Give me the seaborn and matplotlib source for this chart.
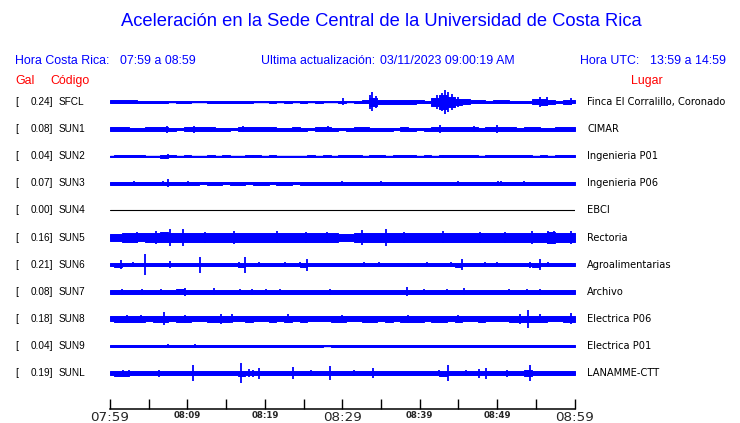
import numpy as np
import matplotlib.pyplot as plt
import seaborn as sns

# estaciones (de arriba hacia abajo)
codes = ['SFCL', 'SUN1', 'SUN2', 'SUN3', 'SUN4', 'SUN5', 'SUN6', 'SUN7', 'SUN8', 'SUN9', 'SUNL']
gal = [0.24, 0.08, 0.04, 0.07, 0.00, 0.16, 0.21, 0.08, 0.18, 0.04, 0.19]
places = ['Finca El Corralillo, Coronado', 'CIMAR', 'Ingenieria P01', 'Ingenieria P06', 'EBCI',
          'Rectoria', 'Agroalimentarias', 'Archivo', 'Electrica P06', 'Electrica P01', 'LANAMME-CTT']

# minutos desde 07:59, etiquetas del eje
minutes = np.arange(61)
tick_min = [0, 5, 10, 15, 20, 25, 30, 35, 40, 45, 50, 55, 60]
tick_lab = ['07:59', '', '08:09', '', '08:19', '', '08:29', '', '08:39', '', '08:49', '', '08:59']
big_ticks = ['07:59', '08:29', '08:59']

# envolvente (semi-amplitud, px) leida minuto a minuto
env_sfcl = [1.5, 1.5, 1.5, 1.5, 1.0, 1.2, 1.2, 1.0, 0.5, 0.8, 0.8, 0.5, 0.5, 1.2, 0.7, 1.2, 0.8, 1.0, 0.6, 0.5,
            0.5, 0.6, 0.5, 0.6, 0.5, 0.6, 0.5, 1.0, 0.5, 0.5, 0.8, 0.5, 0.8, 1.5, 4.0, 2.0, 2.0, 2.0, 2.0, 2.0,
            1.5, 1.0, 4.0, 7.0, 5.0, 3.0, 2.5, 1.5, 1.5, 1.2, 1.5, 1.5, 1.2, 1.0, 1.2, 2.5, 3.0, 2.0, 1.2, 2.0, 1.5]
env_sun1 = [1.6, 1.6, 1.6, 1.5, 1.5, 1.6, 1.7, 1.8, 1.5, 1.4, 1.6, 1.8, 1.6, 1.7, 1.5, 1.5, 1.4, 1.7, 1.6, 1.6,
            1.6, 1.6, 1.5, 1.5, 1.6, 1.5, 1.4, 1.6, 1.8, 1.5, 1.4, 1.5, 1.6, 1.6, 1.5, 1.5, 1.5, 1.4, 1.6, 1.5,
            1.4, 1.5, 1.8, 1.6, 1.6, 1.6, 1.6, 1.8, 1.5, 1.6, 1.8, 1.6, 1.6, 1.5, 1.6, 1.6, 1.5, 1.5, 1.6, 1.6, 1.6]
env_sun2 = [0.5, 1.2, 1.0, 1.0, 0.9, 0.5, 0.5, 1.4, 1.0, 0.5, 1.3, 0.5, 0.5, 1.2, 0.5, 1.0, 0.5, 0.5, 1.3, 1.0,
            0.5, 0.9, 0.5, 0.5, 0.5, 0.5, 0.8, 0.5, 0.8, 0.5, 1.3, 0.9, 0.8, 0.5, 0.8, 0.8, 0.5, 0.8, 1.1, 0.9,
            0.5, 0.8, 0.5, 1.3, 0.9, 1.2, 0.9, 1.1, 0.6, 1.2, 1.2, 0.8, 1.2, 1.1, 1.2, 0.5, 1.0, 0.5, 0.9, 1.2, 1.0]
env_sun3 = [1.4, 1.5, 1.3, 1.6, 1.4, 1.3, 1.4, 1.7, 1.3, 1.3, 1.6, 1.3, 1.2, 1.3, 1.3, 1.2, 1.3, 1.3, 1.2, 1.3,
            1.3, 1.2, 1.3, 1.3, 1.2, 1.3, 1.3, 1.4, 1.3, 1.3, 1.4, 1.3, 1.3, 1.4, 1.3, 1.4, 1.3, 1.3, 1.4, 1.3,
            1.3, 1.4, 1.3, 1.4, 1.4, 1.6, 1.4, 1.4, 1.3, 1.4, 1.7, 1.5, 1.4, 1.6, 1.5, 1.4, 1.4, 1.5, 1.4, 1.5, 1.4]
env_sun4 = [0.0] * 61
env_sun5 = [3.5, 3.9, 4.1, 4.4, 4.0, 4.5, 4.8, 5.0, 4.5, 4.8, 4.5, 4.1, 4.5, 4.3, 4.1, 4.5, 4.8, 4.1, 4.1, 4.3,
            4.1, 4.8, 4.5, 4.1, 4.5, 4.8, 4.1, 4.1, 4.5, 4.1, 3.8, 3.8, 4.8, 4.5, 4.8, 4.8, 4.5, 4.8, 4.5, 4.3,
            4.5, 4.1, 4.5, 4.8, 4.5, 4.3, 4.5, 4.1, 4.5, 4.1, 4.5, 4.5, 4.1, 4.5, 4.8, 4.5, 4.8, 5.2, 4.5, 4.8, 4.8]
env_sun6 = [1.8, 2.0, 1.7, 1.8, 1.7, 1.7, 1.7, 1.9, 1.6, 1.7, 1.7, 1.8, 1.7, 1.6, 1.7, 1.6, 1.8, 2.0, 1.7, 1.8,
            1.6, 1.7, 1.8, 1.7, 1.8, 2.0, 1.7, 1.7, 1.6, 1.7, 1.6, 1.7, 1.8, 1.7, 1.8, 1.7, 1.7, 1.7, 1.8, 1.7,
            1.8, 1.8, 1.7, 1.8, 1.9, 2.0, 1.8, 1.8, 1.9, 1.7, 1.8, 1.7, 1.7, 1.8, 1.9, 2.0, 1.8, 1.7, 1.7, 1.7, 1.8]
env_sun7 = [1.8, 2.1, 2.0, 1.8, 2.1, 1.8, 2.0, 1.8, 1.8, 2.2, 1.8, 1.8, 1.9, 2.0, 1.8, 1.8, 1.9, 2.0, 2.0, 1.8,
            2.0, 1.8, 2.0, 1.8, 1.9, 1.8, 1.8, 1.8, 2.0, 1.8, 1.8, 1.8, 1.8, 1.8, 1.8, 1.8, 1.8, 1.8, 2.1, 2.0,
            2.0, 1.8, 1.9, 2.0, 1.9, 2.1, 1.8, 1.9, 1.8, 1.8, 1.9, 2.0, 1.9, 1.9, 1.8, 2.0, 1.9, 1.8, 1.8, 1.9, 2.0]
env_sun8 = [2.5, 2.8, 3.0, 2.8, 2.8, 2.6, 2.8, 3.0, 2.6, 2.8, 2.8, 2.6, 2.6, 2.7, 3.0, 2.8, 2.6, 2.6, 2.8, 2.6,
            2.6, 2.8, 2.6, 2.8, 2.6, 2.8, 2.6, 2.6, 2.6, 2.7, 2.8, 2.6, 2.6, 2.7, 2.8, 2.6, 2.7, 2.6, 2.8, 2.8,
            2.7, 2.6, 2.7, 2.8, 2.6, 2.8, 2.6, 2.6, 2.8, 2.6, 2.6, 2.6, 2.8, 3.0, 3.2, 3.0, 2.8, 2.6, 2.6, 2.8, 3.2]
env_sun9 = [1.4, 1.4, 1.4, 1.3, 1.4, 1.4, 0.8, 1.4, 1.4, 1.3, 1.4, 0.8, 1.4, 1.4, 1.4, 1.3, 1.4, 1.0, 1.4, 1.4,
            1.0, 1.4, 1.4, 1.3, 1.4, 1.4, 1.3, 1.4, 0.5, 0.6, 1.4, 1.4, 1.4, 1.3, 1.4, 1.4, 1.3, 1.4, 1.4, 1.3,
            1.4, 1.4, 1.4, 1.4, 1.3, 1.4, 1.4, 1.4, 1.4, 1.4, 1.4, 1.4, 1.4, 1.4, 1.4, 1.4, 1.4, 1.3, 1.4, 1.4, 1.4]
env_sunl = [2.2, 2.5, 2.5, 2.2, 2.0, 2.0, 2.2, 2.0, 1.9, 1.9, 2.3, 1.9, 1.9, 1.9, 1.9, 2.0, 2.0, 2.5, 2.3, 2.2,
            1.9, 1.9, 1.9, 2.0, 2.2, 1.9, 2.0, 1.9, 2.0, 1.9, 1.9, 2.0, 1.9, 2.0, 2.0, 1.9, 1.9, 1.9, 2.0, 1.9,
            1.9, 2.0, 2.3, 2.5, 2.0, 2.0, 2.0, 2.3, 2.2, 1.9, 2.0, 2.2, 2.2, 2.2, 2.6, 2.2, 1.9, 2.0, 1.9, 2.0, 2.0]

# picos aislados: (minuto, semi-amplitud px)
spk_sfcl = [(30.1, 3.5), (33.6, 7.0), (33.9, 9.5), (34.3, 6.0), (42.3, 7.0), (42.9, 9.0), (43.3, 12.0),
            (43.7, 10.0), (44.2, 8.0), (45.0, 5.0), (55.5, 5.0), (56.5, 4.5), (59.5, 3.5)]
spk_sun1 = [(6.9, 2.5), (7.4, 3.5), (10.8, 3.5), (13.0, 2.5), (17.2, 3.2), (28.1, 3.2), (42.6, 3.8),
            (47.0, 3.2), (50.0, 3.8)]
spk_sun2 = [(7.5, 2.0), (18.5, 1.6), (43.0, 1.6)]
spk_sun3 = [(3.1, 2.0), (6.8, 2.2), (7.5, 4.0), (10.1, 2.5), (30.0, 2.0), (35.0, 2.0), (45.0, 2.3),
            (50.1, 2.6), (50.5, 2.4), (53.5, 2.2)]
spk_sun4 = []
spk_sun5 = [(3.5, 5.5), (6.0, 6.3), (7.7, 8.7), (9.4, 8.3), (12.3, 5.5), (16.0, 6.5), (21.6, 6.0), (25.3, 5.5),
            (28.0, 5.5), (32.5, 7.5), (35.7, 8.5), (38.0, 5.5), (43.0, 6.0), (47.8, 5.5), (51.0, 5.5),
            (54.5, 6.3), (56.6, 6.3), (57.3, 6.5), (59.5, 6.5)]
spk_sun6 = [(1.4, 4.8), (3.0, 2.5), (4.5, 10.5), (7.7, 3.3), (11.6, 8.0), (16.6, 3.0), (17.5, 8.0), (19.2, 2.5),
            (22.6, 2.5), (24.5, 2.5), (25.5, 6.0), (32.8, 2.5), (34.8, 2.5), (38.5, 2.0), (41.0, 2.2),
            (44.0, 2.5), (45.5, 5.7), (48.5, 2.2), (50.0, 2.2), (54.3, 3.0), (55.6, 5.3), (56.6, 2.5)]
spk_sun7 = [(1.5, 2.8), (4.1, 2.8), (6.6, 2.5), (9.7, 4.2), (13.4, 3.3), (16.8, 2.7), (18.3, 2.8), (20.2, 2.5),
            (22.0, 2.7), (28.4, 3.2), (38.4, 4.5), (40.5, 2.7), (43.5, 2.6), (45.7, 3.5), (51.5, 2.6),
            (53.8, 2.6), (55.6, 3.0)]
spk_sun8 = [(2.2, 4.0), (4.0, 3.8), (7.0, 6.5), (9.7, 4.0), (14.4, 5.0), (15.7, 4.5), (23.0, 4.5), (30.0, 3.5),
            (38.5, 4.0), (45.0, 3.8), (53.0, 5.0), (54.0, 8.7), (55.6, 4.5), (59.6, 5.5)]
spk_sun9 = [(7.5, 1.8), (11.0, 1.8)]
spk_sunl = [(1.7, 3.0), (2.5, 3.0), (6.3, 3.5), (10.7, 8.5), (16.9, 10.3), (17.9, 4.3), (18.5, 3.5),
            (19.2, 5.5), (23.7, 6.0), (26.0, 3.0), (28.4, 7.3), (31.5, 3.0), (34.0, 5.0), (42.5, 3.3),
            (43.6, 7.7), (46.0, 3.0), (47.6, 4.5), (48.6, 5.5), (51.3, 3.5), (54.3, 8.5)]

envs = [env_sfcl, env_sun1, env_sun2, env_sun3, env_sun4, env_sun5, env_sun6, env_sun7, env_sun8, env_sun9, env_sunl]
spikes = [spk_sfcl, spk_sun1, spk_sun2, spk_sun3, spk_sun4, spk_sun5, spk_sun6, spk_sun7, spk_sun8, spk_sun9, spk_sunl]

W, H = 740, 423
row_px = 27.1   # separacion entre trazas en pixeles
BLUE = '#0000ff'
RED = '#ff0000'

sns.set_style('white')
plt.rcParams['font.family'] = ['Liberation Sans', 'DejaVu Sans']

fig = plt.figure(figsize=(W / 100, H / 100), dpi=100)
ax = fig.add_axes([110 / W, 1 - 409 / H, 464.5 / W, (409 - 88) / H])

for i, (env, spk) in enumerate(zip(envs, spikes)):
    amp = np.array(env) / row_px
    if codes[i] == 'SUN4':
        sns.lineplot(x=minutes, y=i + amp, ax=ax, color='black', lw=0.8)
        continue
    ax.fill_between(minutes, i - amp, i + amp, step='mid', color=BLUE, edgecolor=BLUE, lw=0.7)
    ax.plot([0, 60], [i, i], color=BLUE, lw=1.0)
    if spk:
        sx = [s[0] for s in spk]
        sh = np.array([s[1] for s in spk]) / row_px
        ax.vlines(sx, i - sh, i + sh, color=BLUE, lw=1.3)

ax.set_xlim(0, 60)
ax.set_ylim((409 - 102) / row_px, (88 - 102) / row_px)
ax.set_yticks([])
for s in ['left', 'right', 'top']:
    ax.spines[s].set_visible(False)
ax.spines['bottom'].set_color('black')
ax.spines['bottom'].set_linewidth(1.1)
ax.set_xticks(tick_min)
ax.set_xticklabels(tick_lab)
ax.tick_params(axis='x', direction='in', length=7, width=1.0, color='black', pad=1.2, bottom=True)
for lab in ax.get_xticklabels():
    lab.set_family('DejaVu Sans')
    if lab.get_text() in big_ticks:
        lab.set_fontsize(9.7)
    else:
        lab.set_fontsize(6.2)
        lab.set_fontweight('bold')


def put(x, y, s, **kw):
    fig.text(x / W, 1 - y / H, s, va='center', **kw)


put(381, 22, 'Aceleración en la Sede Central de la Universidad de Costa Rica', ha='center', fontsize=13.2, color=BLUE)
put(15, 61, 'Hora Costa Rica:', fontsize=8.9, color=BLUE)
put(120.5, 61, '07:59 a 08:59', fontsize=8.9, color=BLUE)
put(261, 61, 'Ultima actualización:', fontsize=8.9, color=BLUE)
put(380, 61, '03/11/2023 09:00:19 AM', fontsize=8.9, color=BLUE)
put(580.5, 61, 'Hora UTC:', fontsize=8.9, color=BLUE)
put(650.5, 61, '13:59 a 14:59', fontsize=8.9, color=BLUE)
put(15, 81, 'Gal', fontsize=8.9, color=RED)
put(50, 81, 'Código', fontsize=8.9, color=RED)
put(631, 81, 'Lugar', fontsize=8.9, color=RED)

for i in range(len(codes)):
    y = 102 + i * row_px
    put(15, y, '[', fontsize=7.2, color='black')
    put(53, y, f'{gal[i]:.2f}]', ha='right', fontsize=7.2, color='black')
    put(58.5, y, codes[i], fontsize=7.2, color='black')
    put(587, y, places[i], fontsize=7.1, color='black', family='DejaVu Sans')

fig.savefig('out.png', dpi=100)
